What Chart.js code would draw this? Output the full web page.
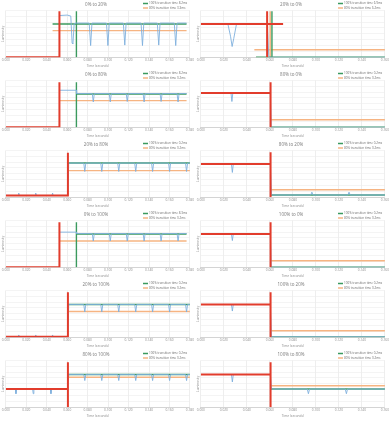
<!DOCTYPE html>
<html>
<head>
<meta charset="utf-8">
<script src="https://cdn.jsdelivr.net/npm/chart.js@4"></script>
<style>
  body { margin: 0; background: #fff; }
  #grid { display: grid; grid-template-columns: 195px 195px; grid-auto-rows: 70px; width: 390px; }
  #grid canvas { display: block; }
</style>
</head>
<body>
<div id="grid"></div>
<script>
// panel titles, left column first then right, row by row
const titles = ['0% to 20%', '20% to 0%', '0% to 80%', '80% to 0%', '20% to 80%', '80% to 20%',
                '0% to 100%', '100% to 0%', '20% to 100%', '100% to 20%', '80% to 100%', '100% to 80%'];
const legend100 = ['100% transition time 8.2ms', '100% transition time 6.9ms', '100% transition time 8.2ms',
                   '100% transition time 0.2ms', '100% transition time 0.2ms', '100% transition time 0.2ms',
                   '100% transition time 8.3ms', '100% transition time 0.2ms', '100% transition time 0.2ms',
                   '100% transition time 0.2ms', '100% transition time 0.2ms', '100% transition time 0.2ms'];
const legend80 = ['80% transition time 3.3ms', '80% transition time 6.2ms', '80% transition time 0.2ms',
                  '80% transition time 0.2ms', '80% transition time 0.2ms', '80% transition time 0.2ms',
                  '80% transition time 0.2ms', '80% transition time 0.2ms', '80% transition time 0.2ms',
                  '80% transition time 0.2ms', '80% transition time 0.2ms', '80% transition time 0.2ms'];

// x tick labels (seconds)
const ticksLeft = ['0.000', '0.020', '0.040', '0.060', '0.080', '0.100', '0.120', '0.140', '0.160', '0.180'];
const ticksRight = ['0.000', '0.020', '0.040', '0.060', '0.080', '0.100', '0.120', '0.140', '0.160'];

// input signal (red), [time, luminosity]; null y breaks the line
const redLines = [
  [[0, 0], [.0524, 0], [.0524, 98]],
  [[0, 71], [.0715, 71], [.0715, null], [.0576, 98], [.0576, 0]],
  [[0, 0], [.0524, 0], [.0524, 96]],
  [[0, 73], [.0606, 73], [.0606, 96], [.0606, 0]],
  [[0, 4], [.0607, 4], [.0607, 95]],
  [[0, 71], [.0606, 71], [.0606, 96], [.0606, 0]],
  [[0, 0], [.0524, 0], [.0524, 96]],
  [[0, 71], [.0606, 71], [.0606, 96], [.0606, 0]],
  [[0, 1], [.0607, 1], [.0607, 96]],
  [[0, 70], [.0606, 70], [.0606, 96], [.0606, 0]],
  [[0, 39], [.0607, 39], [.0607, 96], [.0607, 0]],
  [[0, 70], [.0606, 70], [.0606, 96], [.0606, 0]]
];

// measured luminosity (blue)
const blueLines = [
  [[.0524, 89], [.0600, 90], [.0635, 88], [.0648, 30], [.0656, 29], [.0668, 72], [.0690, 73],
   [.0815, 73], [.0829, 25], [.0842, 73], [.0984, 73], [.0998, 25], [.1011, 73],
   [.1149, 73], [.1163, 26], [.1176, 73], [.1322, 73], [.1336, 25], [.1349, 73],
   [.1481, 73], [.1495, 26], [.1508, 73], [.1647, 73], [.1661, 25], [.1674, 73], [.1767, 73]],
  [[0, 71], [.0235, 71], [.0258, 45], [.0272, 23], [.0286, 40], [.0310, 71], [.0578, 71], [.0590, 3], [.0602, 0], [.16, 0]],
  [[.0524, 79], [.0690, 79], [.0692, 72], [.0845, 72], [.0855, 54], [.0865, 72], [.1011, 72], [.1021, 54], [.1031, 72],
   [.1177, 72], [.1187, 55], [.1197, 72], [.1342, 72], [.1352, 54], [.1362, 72], [.1508, 72], [.1518, 55], [.1528, 72],
   [.1674, 72], [.1684, 54], [.1694, 72], [.1767, 72]],
  [[0, 73], [.0262, 73], [.0270, 55], [.0278, 73], [.0604, 73], [.0612, 1], [.0620, 0], [.16, 0]],
  [[0, 4], [.0120, 4], [.0126, 9], [.0132, 4], [.0286, 4], [.0292, 9], [.0298, 4], [.0451, 4], [.0457, 9], [.0463, 4],
   [.0605, 4], [.0615, 73], [.0762, 73], [.0772, 55], [.0782, 73], [.0928, 73], [.0938, 55], [.0948, 73],
   [.1094, 73], [.1104, 55], [.1114, 73], [.1260, 73], [.1270, 55], [.1280, 73], [.1425, 73], [.1435, 55], [.1445, 73],
   [.1591, 73], [.1601, 55], [.1611, 73], [.1757, 73], [.1767, 55], [.1777, 73], [.18, 73]],
  [[0, 71], [.0266, 71], [.0274, 53], [.0282, 71], [.0604, 71], [.0614, 5], [.0955, 5], [.0965, 11], [.0975, 5],
   [.1278, 5], [.1288, 11], [.1298, 5], [.16, 5]],
  [[.0524, 75], [.0690, 75], [.0692, 72], [.0845, 72], [.0855, 56], [.0865, 72], [.1011, 72], [.1021, 56], [.1031, 72],
   [.1177, 72], [.1187, 56], [.1197, 72], [.1342, 72], [.1352, 56], [.1362, 72], [.1508, 72], [.1518, 56], [.1528, 72],
   [.1674, 72], [.1684, 56], [.1694, 72], [.1767, 72]],
  [[0, 71], [.0266, 71], [.0274, 57], [.0282, 71], [.0604, 71], [.0612, 1], [.0620, 0], [.16, 0]],
  [[0, 1], [.0120, 1], [.0126, 5], [.0132, 1], [.0286, 1], [.0292, 5], [.0298, 1], [.0451, 1], [.0457, 5], [.0463, 1],
   [.0605, 1], [.0615, 70], [.0762, 70], [.0772, 54], [.0782, 70], [.0928, 70], [.0938, 54], [.0948, 70],
   [.1094, 70], [.1104, 54], [.1114, 70], [.1260, 70], [.1270, 54], [.1280, 70], [.1425, 70], [.1435, 54], [.1445, 70],
   [.1591, 70], [.1601, 54], [.1611, 70], [.1757, 70], [.1767, 54], [.1777, 70], [.18, 70]],
  [[0, 70], [.0266, 70], [.0274, 56], [.0282, 70], [.0604, 70], [.0614, 1], [.16, 1]],
  [[0, 39], [.0093, 39], [.0099, 29], [.0105, 39], [.0262, 39], [.0268, 29], [.0274, 39], [.0435, 39], [.0441, 29], [.0447, 39],
   [.0605, 39], [.0615, 70], [.0762, 70], [.0772, 57], [.0782, 70], [.0928, 70], [.0938, 57], [.0948, 70],
   [.1094, 70], [.1104, 57], [.1114, 70], [.1260, 70], [.1270, 57], [.1280, 70], [.1425, 70], [.1435, 57], [.1445, 70],
   [.1591, 70], [.1601, 57], [.1611, 70], [.1757, 70], [.1767, 57], [.1777, 70], [.18, 70]],
  [[0, 70], [.0266, 70], [.0274, 54], [.0282, 70], [.0604, 70], [.0614, 39], [.0925, 39], [.0935, 29], [.0945, 39],
   [.1255, 39], [.1265, 29], [.1275, 39], [.16, 39]]
];

// 100% level (green)
const greenLines = [
  [[.0457, 71], [.1767, 71], [.1767, null], [.0690, 98], [.0690, 0]],
  [[.0479, 0], [.16, 0], [.16, null], [.0618, 98], [.0618, 0]],
  [[.0690, 71], [.1767, 71], [.1767, null], [.0690, 96], [.0690, 0]],
  [[.0606, 0], [.16, 0]],
  [[.0607, 73], [.18, 73]],
  [[.0606, 5], [.16, 5]],
  [[.0690, 71], [.1767, 71], [.1767, null], [.0690, 96], [.0690, 0]],
  [[.0606, 0], [.16, 0]],
  [[.0607, 70], [.18, 70]],
  [[.0606, 1], [.16, 1]],
  [[.0607, 70], [.18, 70]],
  [[.0606, 39], [.16, 39]]
];

// 80% level (orange)
const orangeLines = [
  [[.0457, 57], [.1767, 57]],
  [[.0465, 16], [.16, 16], [.16, null], [.0603, 98], [.0603, 0]],
  [[.0524, 57], [.1767, 57]],
  [[.0606, 16], [.16, 16]],
  [[.0607, 57], [.18, 57]],
  [[.0606, 16], [.16, 16]],
  [[.0524, 56], [.1767, 56]],
  [[.0606, 14], [.16, 14]],
  [[.0607, 55], [.18, 55]],
  [[.0606, 14], [.16, 14]],
  [[.0607, 64], [.18, 64]],
  [[.0606, 46], [.16, 46]]
];

const FONT = 'Open Sans';
const RED = '#e23c2c', BLUE = '#7fb0de', GREEN = '#3b9a5e', ORANGE = '#f6b482';

// small two-row legend in the top right corner
const cornerLegend = {
  id: 'cornerLegend',
  afterDraw(chart, args, opts) {
    const ctx = chart.ctx;
    ctx.save();
    ctx.font = `3px "${FONT}"`;
    ctx.textBaseline = 'middle';
    opts.items.forEach((it, i) => {
      const y = 3.5 + i * 4.5;
      ctx.strokeStyle = it.color;
      ctx.lineWidth = 1.5;
      ctx.beginPath(); ctx.moveTo(143, y); ctx.lineTo(148, y); ctx.stroke();
      ctx.fillStyle = '#6a6a6a';
      ctx.fillText(it.text, 149, y);
    });
    ctx.restore();
  }
};

const toPts = arr => arr.map(p => ({ x: p[0], y: p[1] }));
const grid = document.getElementById('grid');

titles.forEach((title, i) => {
  const labels = i % 2 === 0 ? ticksLeft : ticksRight;
  const canvas = document.createElement('canvas');
  canvas.width = 195; canvas.height = 70;
  grid.appendChild(canvas);

  const line = (data, color, width) => ({ data: toPts(data), borderColor: color, borderWidth: width, pointRadius: 0, fill: false, spanGaps: false });

  new Chart(canvas.getContext('2d'), {
    type: 'line',
    data: {
      datasets: [
        line(redLines[i], RED, 2),
        line(blueLines[i], BLUE, 0.9),
        line(greenLines[i], GREEN, 1.4),
        line(orangeLines[i], ORANGE, 1.4)
      ]
    },
    plugins: [cornerLegend],
    options: {
      responsive: false,
      animation: false,
      events: [],
      layout: { padding: { left: 1, right: 4, top: 0, bottom: 2 } },
      plugins: {
        legend: { display: false },
        tooltip: { enabled: false },
        title: {
          display: true, text: title, color: '#7a7a7a',
          font: { family: FONT, size: 4.5, weight: 'normal' },
          padding: { top: 2.5, bottom: 2.5 }
        },
        cornerLegend: { items: [{ text: legend100[i], color: GREEN }, { text: legend80[i], color: ORANGE }] }
      },
      scales: {
        x: {
          type: 'linear', min: 0, max: +labels[labels.length - 1],
          afterBuildTicks: s => { s.ticks = labels.map(l => ({ value: +l })); },
          ticks: { font: { family: FONT, size: 3.2 }, color: '#8a8a8a', padding: 1, autoSkip: false, maxRotation: 0,
                   callback: (v, k) => labels[k] },
          grid: { color: '#e2e2e2', drawTicks: false, lineWidth: 0.6 },
          border: { color: '#d4d4d4' },
          title: { display: true, text: 'Time (seconds)', color: '#8a8a8a', font: { family: FONT, size: 3.2 }, padding: { top: 1, bottom: 0 } }
        },
        y: {
          min: 0, max: 100,
          ticks: { display: false, stepSize: 12.5 },
          grid: { color: '#ececec', drawTicks: false, lineWidth: 0.6 },
          border: { display: false },
          title: { display: true, text: 'Luminosity', color: '#8a8a8a', font: { family: FONT, size: 3.2 }, padding: { top: 0, bottom: 1 } }
        }
      }
    }
  });
});
</script>
</body>
</html>
